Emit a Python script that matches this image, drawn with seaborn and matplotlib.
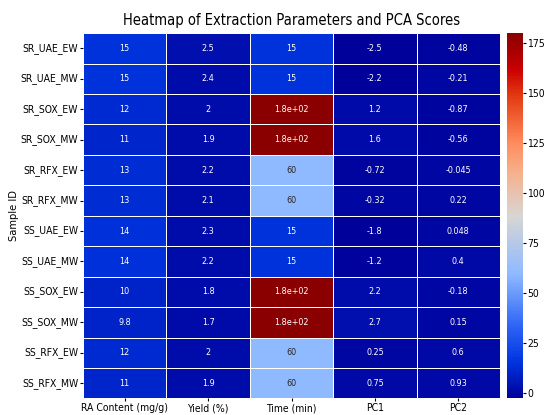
import numpy as np
import pandas as pd
import matplotlib
matplotlib.use("Agg")
import matplotlib.pyplot as plt
import seaborn as sns
from matplotlib.colors import LinearSegmentedColormap

plt.rcParams['font.family'] = ['DejaVu Sans']
plt.rcParams['font.stretch'] = 'condensed'

samples = ["SR_UAE_EW", "SR_UAE_MW", "SR_SOX_EW", "SR_SOX_MW", "SR_RFX_EW", "SR_RFX_MW",
           "SS_UAE_EW", "SS_UAE_MW", "SS_SOX_EW", "SS_SOX_MW", "SS_RFX_EW", "SS_RFX_MW"]
columns = ["RA Content (mg/g)", "Yield (%)", "Time (min)", "PC1", "PC2"]
ra_content = [15, 15, 12, 11, 13, 13, 14, 14, 10, 9.8, 12, 11]
yield_pct = [2.5, 2.4, 2, 1.9, 2.2, 2.1, 2.3, 2.2, 1.8, 1.7, 2, 1.9]
time_min = [15, 15, 180, 180, 60, 60, 15, 15, 180, 180, 60, 60]
pc1 = [-2.5, -2.2, 1.2, 1.6, -0.72, -0.32, -1.8, -1.2, 2.2, 2.7, 0.25, 0.75]
pc2 = [-0.48, -0.21, -0.87, -0.56, -0.045, 0.22, 0.048, 0.4, -0.18, 0.15, 0.6, 0.93]

df = pd.DataFrame({columns[0]: ra_content, columns[1]: yield_pct, columns[2]: time_min,
                   columns[3]: pc1, columns[4]: pc2}, index=samples)

cmap = LinearSegmentedColormap.from_list("cw", [
    (0.0, "#00009a"), (0.1, "#0035e0"), (0.2, "#2f66f5"), (0.34, "#8fbaff"),
    (0.5, "#d8d6d3"), (0.62, "#f6b08c"), (0.7, "#ff8c5c"), (0.83, "#e33a12"),
    (0.9, "#cc0000"), (1.0, "#8a0000")])

fig = plt.figure(figsize=(5.44, 4.15), dpi=100)
ax = fig.add_axes([0.1526, 0.04, 0.7665, 0.88])
cax = fig.add_axes([0.932, 0.04, 0.0294, 0.88])
sns.heatmap(df, ax=ax, cbar_ax=cax, cmap=cmap, annot=True,
            annot_kws={"size": 6.5, "stretch": "condensed"},
            linewidths=0.6, linecolor="white")
ax.set_title("Heatmap of Extraction Parameters and PCA Scores", fontsize=10.5, pad=6)
ax.set_ylabel("Sample ID", fontsize=8, labelpad=1)
ax.tick_params(axis="both", labelsize=7.5, length=2, pad=1.5)
ax.set_yticklabels(ax.get_yticklabels(), rotation=0)
ax.set_xticklabels(ax.get_xticklabels(), rotation=0)
cax.tick_params(labelsize=7.5, length=2, pad=1)
fig.savefig("out.png", dpi=100)
